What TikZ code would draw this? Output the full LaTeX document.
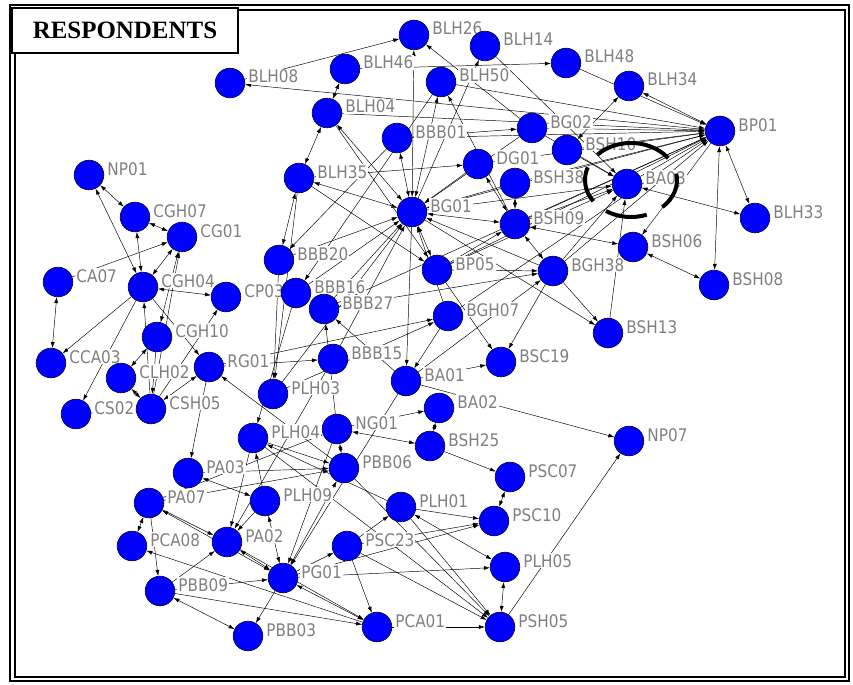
\documentclass[tikz,border=0pt]{standalone}
\usepackage{fontspec}
\usepackage{tikz}
\usetikzlibrary{arrows.meta}
\newfontfamily\lblfont[FakeStretch=0.88]{DejaVu Sans}
\newfontfamily\headfont{Liberation Serif}
\pgfdeclarelayer{ties}
\pgfdeclarelayer{names}
\pgfsetlayers{ties,names,main}
\tikzstyle{actor} = [circle, minimum size=22.2pt, inner sep=0pt, fill=blue, draw=blue!30!black, line width=0.5pt]
\tikzstyle{tag} = [anchor=base west, fill=white, inner sep=0.8pt, text=black!50, font=\lblfont\fontsize{13}{14}\selectfont]
\tikzstyle{tie} = [-{Latex[length=4.5pt,width=3pt]}, line width=0.35pt]
\tikzstyle{mutual} = [{Latex[length=4.5pt,width=3pt]}-{Latex[length=4.5pt,width=3pt]}, line width=0.35pt]
\tikzstyle{ring} = [line width=3pt]
\tikzstyle{title} = [draw, line width=1.5pt, fill=white, minimum width=169.5pt, minimum height=33.75pt, font=\headfont\bfseries\fontsize{18.7}{20}\selectfont]

% actors: name/x/y
\def\actors{BLH26/414/35, BLH14/485/46, BLH48/566/63, BLH08/230/83, BLH46/345/69,
  BLH50/441/82, BLH34/629/86, BLH04/327/113, BP01/720/131, BBB01/397/138,
  BG02/532/128, BSH10/567/150, NP01/89/175, DG01/478/164, BLH35/299/178,
  BSH38/515/183, BA03/627/184, BG01/412/212, CGH07/135/217, BLH33/755/218,
  CG01/182/237, BSH09/515/224, BBB20/279/260, BSH06/633/247, BP05/437/270,
  BGH38/553/271, CA07/58/282, CGH04/143/287, CP03/226/297, BBB16/296/293,
  BSH08/714/285, BBB27/324/309, BGH07/448/316, CGH10/157/337, BSH13/608/333,
  RG01/209/367, BBB15/333/359, CCA03/51/363, BSC19/501/362, CLH02/121/378,
  BA01/406/381, PLH03/273/394, CSH05/151/409, CS02/76/414, BA02/439/408,
  NG01/337/429, NP07/629/441, BSH25/430/446, PLH04/253/438, PBB06/344/468,
  PA03/188/473, PSC07/510/477, PA07/149/503, PLH09/265/501, PLH01/401/507,
  PSC10/494/521, PCA08/132/546, PA02/227/542, PSC23/347/546, PG01/283/578,
  PLH05/505/567, PBB09/160/591, PBB03/248/636, PCA01/377/627, PSH05/500/627}

\begin{document}
\begin{tikzpicture}[x=0.75pt, y=-0.75pt]
\useasboundingbox (0,0) rectangle (853,685);

% frame
\draw[line width=1.5pt] (10,5) rectangle (849,681);
\draw[line width=0.9pt] (15,10) rectangle (845,677);
\node[title] (head) at (125,30.5) {RESPONDENTS};

\foreach \n/\x/\y in \actors
  \node[actor] (\n) at (\x,\y) {};

\begin{pgfonlayer}{names}
\foreach \n/\x/\y in \actors
  \node[tag] at ([xshift=1.5pt]\n.east) {\n};
\end{pgfonlayer}

\begin{pgfonlayer}{ties}
% one-way ties
\foreach \a/\b in {BLH08/BLH26, BP01/BLH08, BG02/BLH26, BG01/BLH14, BLH46/BLH48,
  BLH35/BP05, BBB01/BG02, BSH09/BLH50, BLH35/DG01, BG01/BA01, BP05/BSC19,
  BGH38/BSC19, BA01/BSC19, BA01/NP07, BGH07/BA01, NG01/BBB27, BA01/BBB27,
  BBB27/BGH38, BBB20/BG01, BBB16/BG01, BBB15/BG01, BBB20/PLH03, BLH35/PLH03,
  BLH48/BP01, BP01/BSH06, BGH38/BSH13, BG01/BSH13, BSH10/BA03, BG02/BA03,
  BSH13/BA03, BSH09/BA03, BGH38/BA03, BP05/BA03, BG01/BA03, BLH14/BA03,
  BG02/BP01, BSH10/BP01, BBB01/BP01, BLH04/BP01, BLH50/BP01, BSH38/BP01,
  BSH09/BP01, BGH38/BP01, BP05/BP01, BG01/BP01, DG01/BP01, BA03/BP01,
  BGH07/BP01, BBB27/BP01, DG01/BG01, BG02/BG01, BSH38/BG01, BGH07/BG01,
  BGH38/BG01, PLH03/BG01, BBB27/BG01, BP05/BGH38, BP05/BSH09, BBB01/BBB20,
  BLH50/BBB16, BLH04/BP05, BA01/BGH38,
  CA07/CG01, CGH04/CCA03, CSH05/CG01, CSH05/CGH04, CGH04/RG01, CGH10/CSH05,
  CS02/CSH05, CGH04/CS02, CSH05/CP03, PBB06/RG01, RG01/BBB15, RG01/BGH07,
  PLH03/BGH07, RG01/PA03, BBB16/PLH04, BBB15/PA02, PLH04/PA02, PLH09/PA02,
  PA07/PA02, PA07/NG01, PA07/PBB06, PA03/PBB06, PLH09/PLH04, PLH01/PLH04,
  PLH04/PBB06, NG01/BA02, BSH25/PSC07, PLH01/PSC10, PSC23/PSC10, PG01/PSC10,
  PSC23/PLH01, PLH01/PSH05, PSC23/PSH05, PSC23/PCA01, PG01/PLH05, PCA01/PSH05,
  PSH05/NP07, PA02/PCA01, PG01/PSC23, PG01/PBB03, PBB09/PG01, PBB09/PA02,
  PCA01/PCA08, PA07/PBB09, PBB09/PCA01, NG01/PG01, PBB06/PSH05, PLH04/PSH05,
  BA01/PG01}
  \draw[tie] (\a) -- (\b);
% two-way ties
\foreach \a/\b in {BLH26/BG01, BLH46/BLH04, BLH04/BLH35, BLH35/BBB20, BLH04/BG01,
  BLH35/BG01, BBB01/BG01, BLH50/BG01, BSH38/BSH09, DG01/BSH09, BG01/BSH09,
  BG01/BP05, BLH34/BP01, BLH34/BSH10, BP01/BLH33, BP01/BSH08, BA03/BLH33,
  BSH06/BSH08, BSH09/BSH06, BSH09/BGH38,
  NP01/CGH07, NP01/CGH04, CGH07/CG01, CGH07/CGH04, CA07/CCA03, CGH04/CG01,
  CGH10/CG01, CGH04/CP03, CLH02/CGH10, CLH02/CSH05, CSH05/RG01,
  PA03/PLH09, PA07/PCA08, PA07/PG01, NG01/PBB06, NG01/BSH25, BA02/BSH25,
  PSC07/PSC10, PLH01/PLH05, PLH05/PSH05, PG01/PCA01, PG01/PBB06, PBB09/PBB03,
  PA02/PG01, PLH09/PG01}
  \draw[mutual] (\a) -- (\b);
\end{pgfonlayer}

% broken ring round BA03
\coordinate (hub) at (631,180);
\foreach \s/\e in {36/137, 160/215, 237/290, 313/370}
  \draw[ring] ([shift={(-\s:46 and 37)}]hub) arc[start angle=-\s, end angle=-\e, x radius=46, y radius=37];

\end{tikzpicture}
\end{document}
